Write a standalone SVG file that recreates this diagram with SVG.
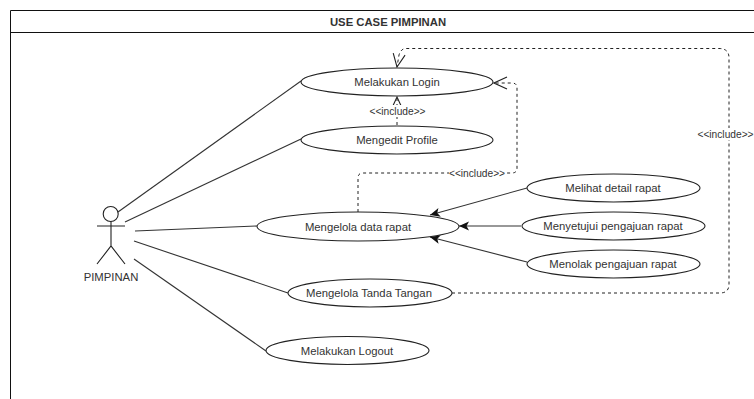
<svg xmlns="http://www.w3.org/2000/svg" width="754" height="399" viewBox="0 0 754 399">
<style>
text{font-family:"Liberation Sans",Arial,sans-serif;font-size:11.3px;fill:#333;text-anchor:middle}
.inc{font-size:10.2px}
.n{fill:#fff;stroke:#222;stroke-width:1.1}
.l{fill:none;stroke:#333;stroke-width:1.1}
.f{marker-end:url(#filled)}
.d{fill:none;stroke:#222;stroke-width:1;stroke-dasharray:3 3;marker-end:url(#open)}
.o{fill:none;stroke:#222;stroke-width:1.1}
</style>
<defs>
<marker id="filled" markerUnits="userSpaceOnUse" markerWidth="10" markerHeight="10" refX="10" refY="5" orient="auto" viewBox="0 0 10 10"><path d="M0 0.500L10 5L0 9.500L2.500 5Z" fill="#111"/></marker>
<marker id="open" markerUnits="userSpaceOnUse" markerWidth="15" markerHeight="15" refX="14" refY="7.500" orient="auto" viewBox="0 0 15 15"><path d="M1 1.500L14 7.500L1 13.500" fill="none" stroke="#222" stroke-width="1.100"/></marker>
</defs>
<rect width="754" height="399" fill="#fff"/>
<g id="frame">
<path d="M754 10.500H10.500V399" fill="none" stroke="#111" stroke-width="1"/>
<path d="M10 32.500H754" fill="none" stroke="#111" stroke-width="1"/>
<text x="388" y="26" style="font-weight:bold">USE CASE PIMPINAN</text>
</g>
<g id="actor">
<circle class="o" cx="110.700" cy="214" r="7.500"/>
<path class="o" d="M111 221.500V246M97 226H125M97 264L111 246L125 264"/>
<text x="111" y="281">PIMPINAN</text>
</g>
<g id="uc1"><ellipse class="n" cx="397" cy="82" rx="96" ry="14"/><text x="397" y="86">Melakukan Login</text></g>
<g id="uc2"><ellipse class="n" cx="397" cy="140" rx="96" ry="14"/><text x="397" y="144">Mengedit Profile</text></g>
<g id="uc3"><ellipse class="n" cx="358" cy="226.500" rx="101" ry="14.500"/><text x="358" y="230.500">Mengelola data rapat</text></g>
<g id="uc4"><ellipse class="n" cx="370" cy="293" rx="82" ry="14"/><text x="369" y="297">Mengelola Tanda Tangan</text></g>
<g id="uc5"><ellipse class="n" cx="347.500" cy="350.500" rx="81.500" ry="14"/><text x="347" y="354.500">Melakukan Logout</text></g>
<g id="uc6"><ellipse class="n" cx="613.500" cy="188" rx="86.500" ry="14"/><text x="613" y="192">Melihat detail rapat</text></g>
<g id="uc7"><ellipse class="n" cx="613.500" cy="226" rx="91.500" ry="14"/><text x="613" y="230">Menyetujui pengajuan rapat</text></g>
<g id="uc8"><ellipse class="n" cx="613.500" cy="264" rx="86.500" ry="14"/><text x="613" y="268">Menolak pengajuan rapat</text></g>
<g id="connectors">
<path class="l" d="M118 212L301 81"/>
<path class="l" d="M125 222L301 139"/>
<path class="l" d="M135 231L257 226"/>
<path class="l" d="M134 241L288 293"/>
<path class="l" d="M134 259L266 351"/>
<path class="l f" d="M527 188L430 215"/>
<path class="l f" d="M521 226L459 226"/>
<path class="l f" d="M527 262L430 237"/>
<path class="d" d="M397 125V97"/>
<path class="d" d="M358 212V178Q358 173 363 173H512Q517 173 517 168V88Q517 83 512 83H494"/>
<path class="d" d="M452 293H720Q729 293 729 284V58Q729 48.500 719 48.500H406Q401 48.500 399 55L397 67"/>
</g>
<g id="include-labels">
<rect x="369" y="105" width="57" height="12" fill="#fff"/>
<text class="inc" x="397.500" y="115">&lt;&lt;include&gt;&gt;</text>
<rect x="449" y="167" width="56" height="12" fill="#fff"/>
<text class="inc" x="477" y="176.500">&lt;&lt;include&gt;&gt;</text>
<rect x="698" y="128" width="56" height="12" fill="#fff"/>
<text class="inc" x="725.500" y="137.500">&lt;&lt;include&gt;&gt;</text>
</g>
</svg>
